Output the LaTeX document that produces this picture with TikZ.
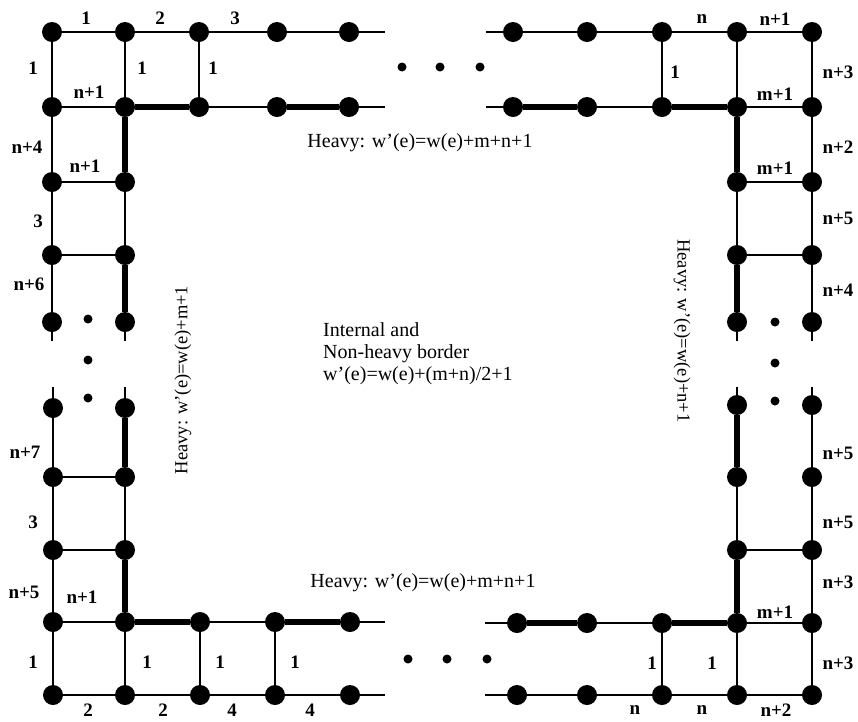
\documentclass[tikz,border=0pt]{standalone}
\usepackage{fontspec}
\setmainfont{Liberation Serif}
\begin{document}
\begin{tikzpicture}[x=1pt,y=-1pt,
  vtx/.style={circle,fill=black,inner sep=0pt,minimum size=20pt},
  sdot/.style={circle,fill=black,inner sep=0pt,minimum size=9pt},
  thinedge/.style={line width=2pt},
  heavyedge/.style={line width=6pt},
  lbl/.style={font=\bfseries\fontsize{19}{19}\selectfont,inner sep=0pt},
  txt/.style={font=\fontsize{20}{22}\selectfont,inner sep=0pt},
  vtxt/.style={font=\fontsize{18.5}{20}\selectfont,inner sep=0pt}]
\useasboundingbox (0,0) rectangle (858,721);
% ---------- vertices ----------
\foreach \n/\x/\y in {
  t1/52/32,t2/125/32,t3/199/32,t4/277/32,t5/349/32,
  s1/52/107,s2/125/107,s3/199/107,s4/277/107,s5/349/107,
  l3/52/182,l4/52/255,l5/52/322,
  k3/125/182,k4/125/255,k5/125/322,
  u1/513/32,u2/587/32,u3/662/32,u4/737/32,u5/812/32,
  v1/513/107,v2/587/107,v3/662/107,v4/737/107,v5/812/107,
  r3/737/182,r4/737/255,r5/737/322,
  q3/812/182,q4/812/255,q5/812/322,
  a1/53/408,a2/53/477,a3/53/550,a4/53/622,a5/53/695,
  b1/125/408,b2/125/477,b3/125/550,b4/125/622,b5/125/695,
  c4/200/622,d4/275/622,e4/350/622,
  c5/200/695,d5/275/695,e5/350/695,
  f1/517/623,f2/587/623,f3/662/623,f4/737/623,f5/812/623,
  g1/517/695,g2/587/695,g3/662/695,g4/737/695,g5/812/695,
  h1/737/405,h2/737/477,h3/737/550,
  i1/812/405,i2/812/477,i3/812/550}
  \node[vtx] (\n) at (\x,\y) {};
% free ends
\foreach \n/\x/\y in {tE/385/32,sE/385/107,lE/52/341,kE/125/341,
  uS/486/32,vS/486/107,rE/737/341,qE/812/341,
  aS/53/387,bS/125/387,eE/385/622,e5E/385/695,
  fS/485/623,gS/485/695,hS/737/387,iS/812/387}
  \coordinate (\n) at (\x,\y);
% ---------- thin edges ----------
\foreach \p/\q in {t1/t2,t2/t3,t3/t4,t4/t5,t5/tE,t1/s1,t2/s2,t3/s3,
  s1/s2,s3/s4,s5/sE,s1/l3,l3/l4,l4/l5,l5/lE,k3/k4,k5/kE,l3/k3,l4/k4,
  uS/u1,u1/u2,u2/u3,u3/u4,u4/u5,u3/v3,u4/v4,u5/v5,
  vS/v1,v2/v3,v4/v5,r3/r4,r5/rE,v5/q3,q3/q4,q4/q5,q5/qE,r3/q3,r4/q4,
  aS/a1,a1/a2,a2/a3,a3/a4,a4/a5,bS/b1,b2/b3,a2/b2,a3/b3,a4/b4,a5/b5,
  b4/b5,c4/c5,d4/d5,c4/d4,e4/eE,b5/c5,c5/d5,d5/e5,e5/e5E,
  fS/f1,f2/f3,f4/f5,gS/g1,g1/g2,g2/g3,g3/g4,g4/g5,f3/g3,f4/g4,f5/g5,
  hS/h1,h2/h3,iS/i1,i1/i2,i2/i3,i3/f5,h3/i3}
  \draw[thinedge] (\p) -- (\q);
% ---------- heavy edges ----------
\foreach \p/\q in {s2/s3,s4/s5,s2/k3,k4/k5,
  v1/v2,v3/v4,v4/r3,r4/r5,
  b1/b2,b3/b4,b4/c4,d4/e4,
  f1/f2,f3/f4,h1/h2,h3/f4}
  \draw[heavyedge] (\p) -- (\q);
% ---------- ellipsis dots ----------
\foreach \n/\x/\y in {dA/402/67,dB/440/67,dC/480/67,
  dD/88/319,dE/88/360,dF/88/398,
  dG/775/322,dH/775/363,dI/775/401,
  dJ/408/659,dK/447/659,dL/487/659}
  \node[sdot] (\n) at (\x,\y) {};
% ---------- edge labels ----------
\foreach \n/\x/\y/\t in {
  L1/86/18/1,L2/160/18/2,L3/235/18/3,L4/33/68/1,L5/142/68/1,L6/213/68/1,
  L7/89/92/n+1,L8/27/147/n+4,L9/85/166/n+1,L10/38/221/3,L11/29/284/n+6,
  L12/702/19/n,L13/775/19/n+1,L14/675/72/1,L15/838/72/n+3,L16/775/94/m+1,
  L17/838/147/n+2,L18/775/168/m+1,L19/838/218/n+5,L20/838/290/n+4,
  L21/25/452/n+7,L22/33/522/3,L23/24/592/n+5,L24/82/597/n+1,L25/33/662/1,
  L26/147/662/1,L27/220/662/1,L28/295/662/1,
  L29/88/710/2,L30/163/710/2,L31/232/710/4,L32/310/710/4,
  L33/838/453/n+5,L34/838/522/n+5,L35/838/582/n+3,L36/838/663/n+3,
  L37/775/612/m+1,L38/652/663/1,L39/712/663/1,
  L40/635/710/n,L41/702/710/n,L42/776/710/n+2}
  \node[lbl] (\n) at (\x,\y) {\t};
% ---------- region texts ----------
\node[txt] (htop) at (420,143) {Heavy: w'(e)=w(e)+m+n+1};
\node[txt] (hbot) at (423,583) {Heavy: w'(e)=w(e)+m+n+1};
\node[txt,align=left,anchor=west] (intl) at (323,354)
  {Internal and\\Non-heavy border\\w'(e)=w(e)+(m+n)/2+1};
\node[vtxt,rotate=90] (hleft) at (183,380) {Heavy: w'(e)=w(e)+m+1};
\node[vtxt,rotate=-90] (hright) at (682,331) {Heavy: w'(e)=w(e)+n+1};
\end{tikzpicture}
\end{document}
